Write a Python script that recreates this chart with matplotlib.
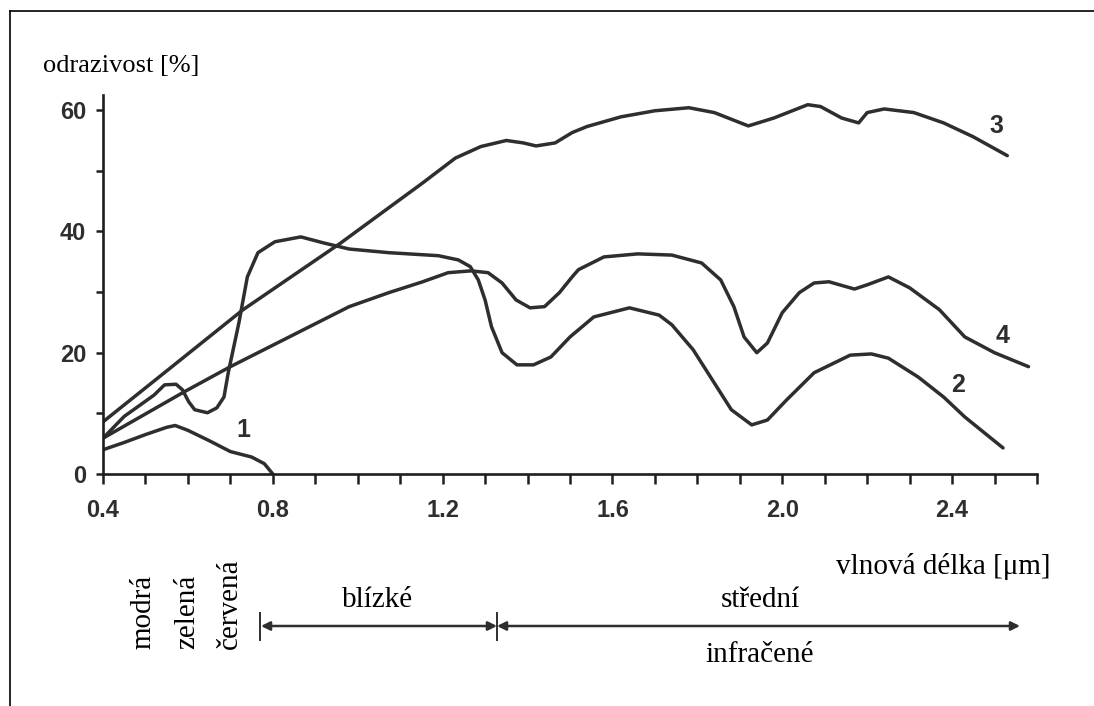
import matplotlib
matplotlib.use("Agg")
import matplotlib.pyplot as plt
from matplotlib.ticker import MultipleLocator, FormatStrFormatter
from matplotlib.patches import FancyArrowPatch
from matplotlib.lines import Line2D

# spectral reflectance curves (wavelength in um, reflectance in %)
x1 = [0.40, 0.45, 0.50, 0.55, 0.57, 0.60, 0.65, 0.70, 0.75, 0.78, 0.80]
y1 = [4.0, 5.2, 6.5, 7.7, 8.0, 7.2, 5.5, 3.7, 2.8, 1.7, 0.0]

x2 = [0.40, 0.45, 0.50, 0.52, 0.545, 0.572, 0.587, 0.602, 0.616, 0.646, 0.668,
      0.685, 0.695, 0.72, 0.74, 0.765, 0.805, 0.866, 0.92, 0.98, 1.073, 1.19,
      1.237, 1.265, 1.284, 1.30, 1.315, 1.34, 1.375, 1.414, 1.455, 1.50, 1.556,
      1.64, 1.71, 1.74, 1.79, 1.84, 1.88, 1.928, 1.965, 2.01, 2.075, 2.16,
      2.21, 2.25, 2.32, 2.38, 2.43, 2.52]
y2 = [5.9, 9.5, 12.0, 13.0, 14.7, 14.8, 13.9, 11.9, 10.6, 10.1, 10.9,
      12.7, 16.7, 24.9, 32.5, 36.5, 38.3, 39.1, 38.1, 37.1, 36.5, 36.0,
      35.3, 34.2, 32.0, 28.7, 24.3, 20.0, 18.0, 18.0, 19.3, 22.6, 25.9,
      27.4, 26.2, 24.6, 20.5, 15.0, 10.6, 8.1, 8.9, 12.2, 16.7, 19.6,
      19.8, 19.1, 16.0, 12.7, 9.4, 4.3]

x3 = [0.40, 0.55, 0.73, 0.96, 1.073, 1.153, 1.23, 1.29, 1.35, 1.39, 1.42,
      1.465, 1.505, 1.54, 1.62, 1.70, 1.78, 1.84, 1.92, 1.98, 2.06, 2.09,
      2.14, 2.18, 2.20, 2.24, 2.31, 2.38, 2.45, 2.53]
y3 = [8.6, 17.0, 27.1, 38.1, 43.9, 48.0, 52.1, 54.0, 55.0, 54.6, 54.1,
      54.6, 56.3, 57.3, 58.9, 59.9, 60.4, 59.6, 57.4, 58.7, 60.9, 60.6,
      58.7, 57.9, 59.6, 60.2, 59.6, 57.9, 55.6, 52.5]

x4 = [0.40, 0.59, 0.70, 0.98, 1.073, 1.153, 1.213, 1.267, 1.307, 1.34, 1.373,
      1.406, 1.44, 1.475, 1.505, 1.52, 1.58, 1.66, 1.74, 1.81, 1.855, 1.886,
      1.91, 1.94, 1.965, 2.00, 2.04, 2.075, 2.11, 2.17, 2.20, 2.25, 2.30,
      2.37, 2.43, 2.50, 2.58]
y4 = [5.9, 13.5, 17.7, 27.6, 29.9, 31.7, 33.2, 33.5, 33.2, 31.5, 28.7,
      27.4, 27.6, 29.9, 32.5, 33.7, 35.8, 36.3, 36.1, 34.8, 32.0, 27.6,
      22.6, 20.0, 21.6, 26.6, 29.9, 31.5, 31.7, 30.5, 31.2, 32.5, 30.7,
      27.1, 22.6, 20.0, 17.7]

curve_labels = ["1", "2", "3", "4"]
curve_label_pos = [(0.73, 7.3), (2.415, 14.7), (2.505, 57.4), (2.52, 22.8)]

band_labels = ["modrá", "zelená", "červená"]

W, H = 1094, 706
ink = "#2e2e2e"

fig = plt.figure(figsize=(W / 100, H / 100), dpi=100)
ax = fig.add_axes([103 / W, 1 - 474 / H, (1037 - 103) / W, (474 - 95) / H])

for xs, ys in [(x1, y1), (x2, y2), (x3, y3), (x4, y4)]:
    ax.plot(xs, ys, color=ink, lw=2.5, solid_joinstyle="round",
            solid_capstyle="round")

for lab, (lx, ly) in zip(curve_labels, curve_label_pos):
    ax.text(lx, ly, lab, fontsize=18, fontweight="bold", color=ink,
            family="Liberation Sans", ha="center", va="center")

ax.set_xlim(0.4, 2.6)
ax.set_ylim(0, 62.5)
for s in ["top", "right"]:
    ax.spines[s].set_visible(False)
for s in ["left", "bottom"]:
    ax.spines[s].set_linewidth(1.9)
    ax.spines[s].set_color("#1e1e1e")

ax.xaxis.set_major_locator(MultipleLocator(0.4))
ax.xaxis.set_minor_locator(MultipleLocator(0.1))
ax.xaxis.set_major_formatter(FormatStrFormatter("%.1f"))
ax.yaxis.set_major_locator(MultipleLocator(20))
ax.yaxis.set_minor_locator(MultipleLocator(10))
ax.tick_params(axis="x", which="both", direction="out", length=7, width=1.8,
               color="#1e1e1e", pad=11)
ax.tick_params(axis="y", which="both", direction="out", length=5, width=1.8,
               color="#1e1e1e", pad=7)
for t in ax.get_xticklabels() + ax.get_yticklabels():
    t.set_fontfamily("Liberation Sans")
    t.set_fontweight("bold")
    t.set_fontsize(17)
    t.set_color(ink)

def fx(px):
    return px / W

def fy(py):
    return 1 - py / H

serif = "Liberation Serif"
fig.text(fx(43), fy(66), "odrazivost [%]", family=serif, fontsize=19,
         ha="left", va="center")
fig.text(fx(1050), fy(566), "vlnová délka [μm]", family=serif, fontsize=21,
         ha="right", va="center")

for lab, px in zip(band_labels, [143, 187, 230]):
    fig.text(fx(px), fy(649), lab, family=serif, fontsize=21, rotation=90,
             rotation_mode="anchor", ha="left", va="center")

fig.text(fx(378), fy(600), "blízké", family=serif, fontsize=21,
         ha="center", va="center")
fig.text(fx(760), fy(600), "střední", family=serif, fontsize=21,
         ha="center", va="center")
fig.text(fx(760), fy(655), "infračené", family=serif, fontsize=21,
         ha="center", va="center")

# near / mid infrared range arrows
for a, b in [(261, 497), (497, 1020)]:
    fig.add_artist(FancyArrowPatch((fx(a), fy(626)), (fx(b), fy(626)),
                                   transform=fig.transFigure,
                                   arrowstyle="<|-|>", mutation_scale=13,
                                   lw=1.8, color=ink, shrinkA=0, shrinkB=0))
for px in [260, 497]:
    fig.add_artist(Line2D([fx(px), fx(px)], [fy(613), fy(640)],
                          transform=fig.transFigure, color=ink, lw=1.4))

# scan frame
fig.add_artist(Line2D([fx(10), fx(10)], [fy(11), 0], transform=fig.transFigure,
                      color="black", lw=1.2))
fig.add_artist(Line2D([fx(10), 1], [fy(11), fy(11)], transform=fig.transFigure,
                      color="black", lw=1.2))

fig.savefig("out.png", dpi=100)
